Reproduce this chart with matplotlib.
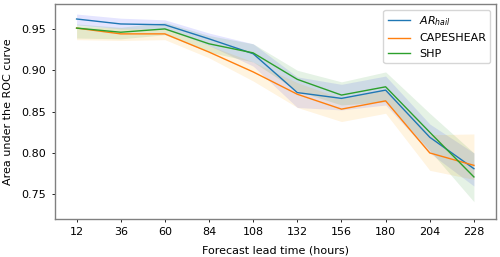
import matplotlib
matplotlib.use("Agg")
import matplotlib.pyplot as plt
import numpy as np

lead = [12, 36, 60, 84, 108, 132, 156, 180, 204, 228]

ar_mean = [0.962, 0.956, 0.955, 0.938, 0.920, 0.873, 0.866, 0.876, 0.819, 0.781]
ar_low = [0.955, 0.950, 0.950, 0.930, 0.905, 0.855, 0.852, 0.858, 0.800, 0.760]
ar_high = [0.968, 0.963, 0.961, 0.945, 0.932, 0.892, 0.883, 0.893, 0.835, 0.800]

cs_mean = [0.951, 0.944, 0.944, 0.922, 0.898, 0.871, 0.853, 0.863, 0.800, 0.785]
cs_low = [0.937, 0.936, 0.937, 0.915, 0.887, 0.855, 0.838, 0.848, 0.779, 0.768]
cs_high = [0.953, 0.951, 0.950, 0.930, 0.910, 0.885, 0.866, 0.877, 0.822, 0.823]

shp_mean = [0.951, 0.946, 0.950, 0.932, 0.921, 0.889, 0.870, 0.880, 0.825, 0.771]
shp_low = [0.939, 0.938, 0.943, 0.922, 0.910, 0.875, 0.858, 0.862, 0.803, 0.741]
shp_high = [0.956, 0.952, 0.958, 0.942, 0.932, 0.900, 0.886, 0.898, 0.848, 0.800]

plt.rcParams.update({"font.size": 8})
fig = plt.figure(figsize=(5, 2.57), dpi=100)
ax = fig.add_axes([0.109, 0.149, 0.883, 0.835])

ax.fill_between(lead, ar_low, ar_high, color="blue", alpha=0.1, linewidth=0)
ax.fill_between(lead, cs_low, cs_high, color="orange", alpha=0.12, linewidth=0)
ax.fill_between(lead, shp_low, shp_high, color="green", alpha=0.1, linewidth=0)

ax.plot(lead, ar_mean, color="#1f77b4", lw=1.0, label="$AR_{hail}$")
ax.plot(lead, cs_mean, color="#ff7f0e", lw=1.0, label="CAPESHEAR")
ax.plot(lead, shp_mean, color="#2ca02c", lw=1.0, label="SHP")

ax.set_xlim(0, 240)
ax.set_ylim(0.7205, 0.980)
ax.set_xticks(lead)
ax.set_yticks([0.75, 0.80, 0.85, 0.90, 0.95])
ax.tick_params(length=2.5, width=0.6)
for s in ax.spines.values():
    s.set_color("gray")
    s.set_linewidth(1.0)
ax.set_xlabel("Forecast lead time (hours)", labelpad=6)
ax.set_ylabel("Area under the ROC curve", labelpad=6)
ax.legend(loc="upper right")

fig.savefig("out.png", dpi=100)
